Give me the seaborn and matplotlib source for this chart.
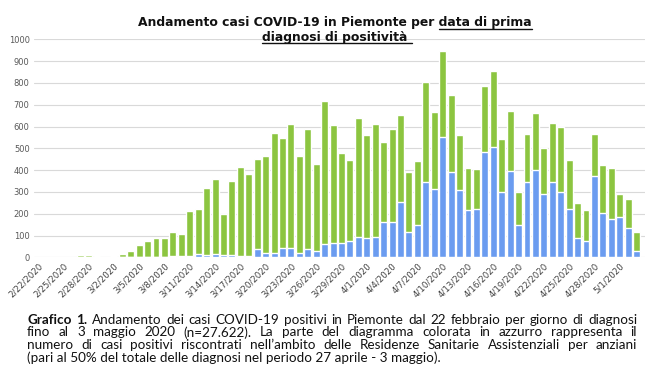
import matplotlib
matplotlib.use('Agg')
import matplotlib.pyplot as plt
import seaborn as sns
import pandas as pd
from matplotlib.lines import Line2D

# Dati: casi totali e casi in RSA per giorno di prima diagnosi
giorni = [f"{d.month}/{d.day}/{d.year}" for d in pd.date_range('2020-02-22', '2020-05-03')]

totale = [1, 1, 1, 2, 2, 11, 11, 4, 3, 8, 15, 31,
          55, 76, 89, 88, 115, 106, 211, 222, 318, 358, 199, 349,
          416, 380, 451, 466, 568, 545, 610, 466, 589, 430, 715, 608,
          477, 445, 641, 560, 613, 529, 590, 654, 393, 443, 803, 665,
          948, 745, 561, 411, 405, 784, 853, 544, 670, 298, 564, 664,
          500, 616, 599, 446, 249, 216, 567, 422, 410, 291, 268, 117]

rsa = [0, 0, 0, 0, 0, 0, 0, 0, 0, 0, 0, 0,
       1, 1, 2, 2, 5, 5, 6, 15, 10, 16, 12, 10,
       8, 8, 36, 21, 22, 43, 43, 21, 36, 27, 60, 64,
       67, 73, 93, 87, 95, 162, 162, 254, 118, 148, 346, 312,
       553, 390, 309, 216, 220, 485, 508, 298, 396, 147, 347, 400,
       289, 344, 300, 222, 89, 75, 373, 203, 176, 183, 135, 31]

# titolo: (testo normale, testo sottolineato)
titolo = [("Andamento casi COVID-19 in Piemonte per ", "data di prima"),
          ("", "diagnosi di positività")]

didascalia = [
    "Grafico 1. Andamento dei casi COVID-19 positivi in Piemonte dal 22 febbraio per giorno di diagnosi",
    "fino al 3 maggio 2020 (n=27.622). La parte del diagramma colorata in azzurro rappresenta il",
    "numero di casi positivi riscontrati nell’ambito delle Residenze Sanitarie Assistenziali per anziani",
    "(pari al 50% del totale delle diagnosi nel periodo 27 aprile - 3 maggio).",
]

verde = '#8cc540'
blu = '#6b9cf0'

sns.set_theme(style='white')
plt.rcParams['font.family'] = ['DejaVu Sans']

W, H = 650, 365
fig = plt.figure(figsize=(W / 100, H / 100), dpi=100)
ax = fig.add_axes([33.8 / W, 1 - 257.3 / H, (645 - 33.8) / W, (257.3 - 39.3) / H])

df = pd.DataFrame({'giorno': giorni, 'totale': totale, 'rsa': rsa})
sns.barplot(data=df, x='giorno', y='totale', color=verde, saturation=1, width=0.82, ax=ax)
sns.barplot(data=df, x='giorno', y='rsa', color=blu, saturation=1, width=0.82, ax=ax)

ax.set_ylim(0, 1000)
ax.set_xlim(-0.5, 72)
ax.set_yticks(range(0, 1001, 100))
ax.set_xticks(range(0, len(giorni), 3))
ax.set_xticklabels(giorni[::3], rotation=45, ha='right', rotation_mode='anchor')
ax.tick_params(axis='x', labelsize=6.2, length=0, pad=3, colors='#404040')
ax.tick_params(axis='y', labelsize=6, length=0, pad=3, colors='#595959')
ax.set_xlabel('')
ax.set_ylabel('')
ax.yaxis.grid(True, color='#d9d9d9', lw=0.8)
ax.set_axisbelow(True)
sns.despine(ax=ax, left=True, bottom=True)

fig.canvas.draw()
rend = fig.canvas.get_renderer()


def larghezza(s, **kw):
    t = fig.text(0, 0, s, **kw)
    w = t.get_window_extent(rend).width
    t.remove()
    return w


# Titolo (centrato, con parte sottolineata)
tit_kw = dict(fontsize=8.9, fontweight='bold', family='DejaVu Sans', color='#111111')
for (norm, sott), yb in zip(titolo, [26, 40.5]):
    intero = norm + sott
    tot = larghezza(intero, **tit_kw)
    ws = larghezza(sott, **tit_kw)
    x0 = 335 - tot / 2
    fig.text(x0 / W, 1 - yb / H, intero, va='baseline', ha='left', **tit_kw)
    u0 = x0 + tot - ws
    u1 = x0 + tot + (4 if norm == "" else 0)
    yl = 1 - (yb + 2.5) / H
    fig.add_artist(Line2D([u0 / W, u1 / W], [yl, yl], color='#111111', lw=1.0,
                          transform=fig.transFigure))

# Didascalia giustificata
cap_font = 'Lato'
cap_fs = 9.7
x_sx, x_dx = 27, 637
righe_y = [320, 332.5, 345, 357.5]
for n, (riga, yc) in enumerate(zip(didascalia, righe_y)):
    if n == len(didascalia) - 1:
        fig.text(x_sx / W, 1 - yc / H, riga, va='center', ha='left', fontsize=cap_fs,
                 family=cap_font, color='#111111')
        continue
    parole = riga.split(' ')
    pesi = ['bold' if (n == 0 and k < 2) else 'normal' for k in range(len(parole))]
    ws = [larghezza(p, fontsize=cap_fs, family=cap_font, fontweight=b) for p, b in zip(parole, pesi)]
    gap = (x_dx - x_sx - sum(ws)) / (len(ws) - 1)
    x = x_sx
    for p, b, w in zip(parole, pesi, ws):
        fig.text(x / W, 1 - yc / H, p, va='center', ha='left', fontsize=cap_fs,
                 family=cap_font, fontweight=b, color='#111111')
        x += w + gap

fig.savefig('out.png', dpi=100)
